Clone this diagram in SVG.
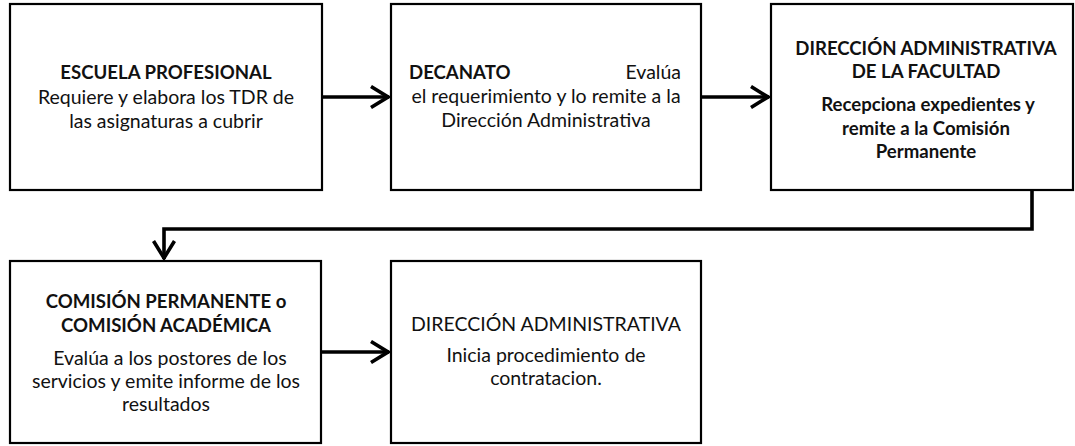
<svg xmlns="http://www.w3.org/2000/svg" width="1075" height="446" viewBox="0 0 1075 446">
<style>
.box{fill:#fff;stroke:#000;stroke-width:2.2}
.t{font-family:Lato,"Liberation Sans",sans-serif;font-size:19.5px;fill:#111;text-anchor:middle}
.b{font-weight:bold;font-size:18.6px}
.con{fill:none;stroke:#000;stroke-width:3.6}
</style>
<defs>
<marker id="ah" viewBox="0 0 20 24" refX="19" refY="12" markerWidth="20" markerHeight="24" markerUnits="userSpaceOnUse" orient="auto">
<path d="M1,1.5 L18,12 L1,22.5" fill="none" stroke="#000" stroke-width="3.6" stroke-linejoin="miter"/>
</marker>
</defs>
<rect width="1075" height="446" fill="#fff"/>
<g id="connectors">
<path class="con" d="M322,97 H389" marker-end="url(#ah)"/>
<path class="con" d="M701,97 H769" marker-end="url(#ah)"/>
<path class="con" d="M1032,190 V229 H164 V259" marker-end="url(#ah)"/>
<path class="con" d="M321,352 H389" marker-end="url(#ah)"/>
</g>
<g id="escuela">
<rect class="box" x="10" y="4" width="312" height="186"/>
<text class="t b" x="166" y="79">ESCUELA PROFESIONAL</text>
<text class="t" x="166" y="104">Requiere y elabora los TDR de</text>
<text class="t" x="166" y="128">las asignaturas a cubrir</text>
</g>
<g id="decanato">
<rect class="box" x="391" y="4" width="310" height="186"/>
<text class="t b" x="409" y="79" style="text-anchor:start">DECANATO</text>
<text class="t" x="681" y="79" style="text-anchor:end">Evalúa</text>
<text class="t" x="546" y="103">el requerimiento y lo remite a la</text>
<text class="t" x="546" y="127">Dirección Administrativa</text>
</g>
<g id="direccion-facultad">
<rect class="box" x="771" y="4" width="302" height="186"/>
<text class="t b" x="926" y="55">DIRECCIÓN ADMINISTRATIVA</text>
<text class="t b" x="926" y="78">DE LA FACULTAD</text>
<text class="t b" x="928" y="111">Recepciona expedientes y</text>
<text class="t b" x="926" y="135">remite a la Comisión</text>
<text class="t b" x="926" y="158">Permanente</text>
</g>
<g id="comision">
<rect class="box" x="10" y="261" width="311" height="182"/>
<text class="t b" x="166" y="308">COMISIÓN PERMANENTE o</text>
<text class="t b" x="166" y="332">COMISIÓN ACADÉMICA</text>
<text class="t" x="170" y="365">Evalúa a los postores de los</text>
<text class="t" x="166" y="388">servicios y emite informe de los</text>
<text class="t" x="166" y="411">resultados</text>
</g>
<g id="direccion-administrativa">
<rect class="box" x="391" y="261" width="310" height="182"/>
<text class="t" x="546" y="331">DIRECCIÓN ADMINISTRATIVA</text>
<text class="t" x="546" y="362">Inicia procedimiento de</text>
<text class="t" x="546" y="385">contratacion.</text>
</g>
</svg>
